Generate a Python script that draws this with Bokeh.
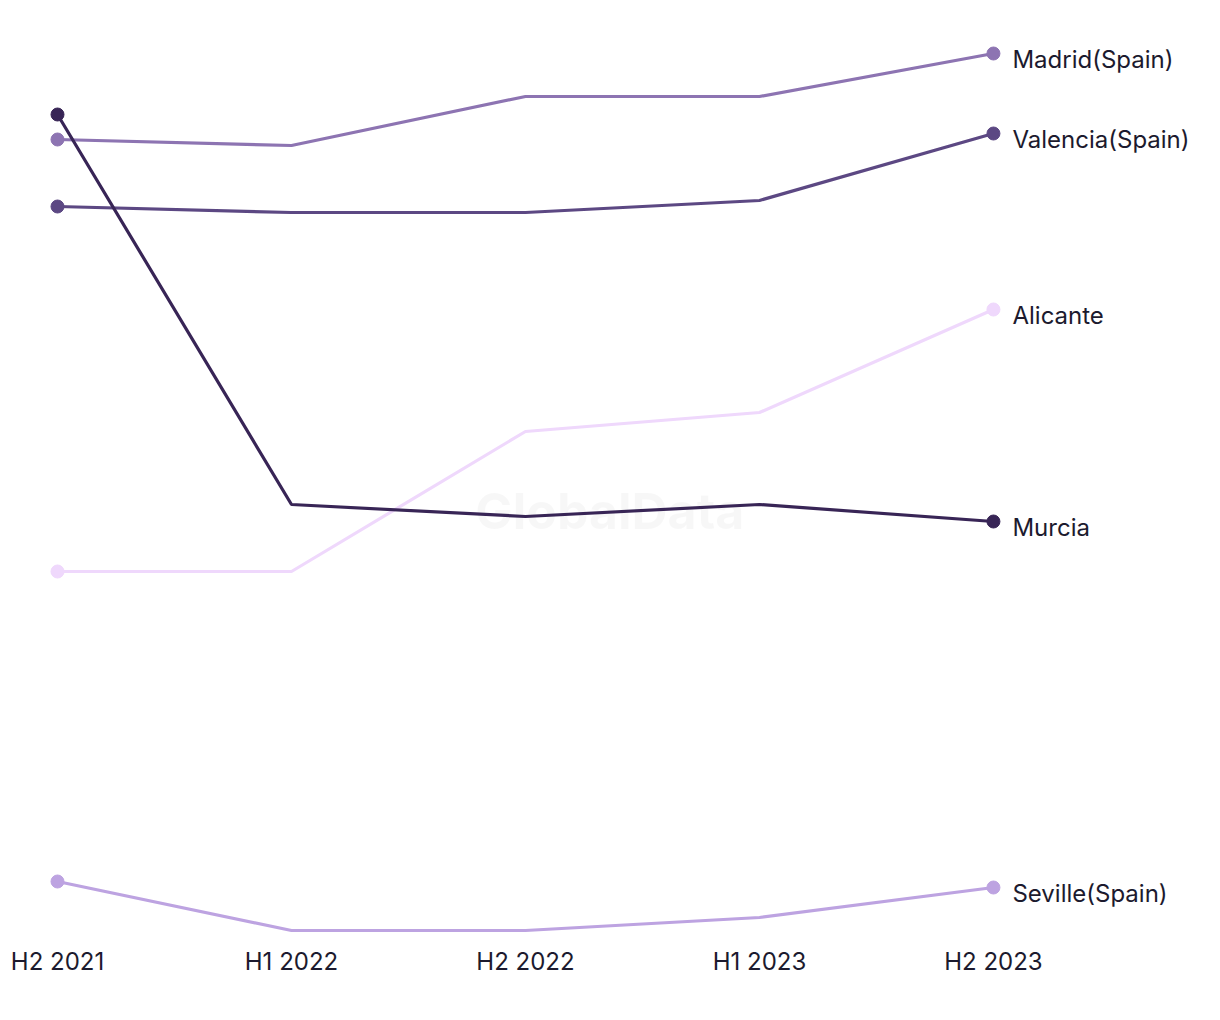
from bokeh.plotting import figure
from bokeh.models import Range1d, FixedTicker, ColumnDataSource
from bokeh.core.properties import value
from bokeh.embed import file_html
from bokeh.resources import INLINE

periods = ["H2 2021", "H1 2022", "H2 2022", "H1 2023", "H2 2023"]
series_names = ["Madrid(Spain)", "Valencia(Spain)", "Alicante", "Seville(Spain)", "Murcia"]
madrid = [82.1, 81.5, 86.4, 86.4, 90.7]
valencia = [75.4, 74.8, 74.8, 76.0, 82.7]
alicante = [38.9, 38.9, 52.9, 54.8, 65.1]
seville = [7.9, 3.0, 3.0, 4.3, 7.3]
murcia = [84.6, 45.6, 44.4, 45.6, 43.9]
colors = ["#8d74b2", "#5c4883", "#efd8fc", "#bda3e1", "#382556"]
series_values = [madrid, valencia, alicante, seville, murcia]

FONT = "Inter"
TEXT_COLOR = "#1c1a2e"

xs = list(range(len(periods)))

p = figure(width=1204, height=1004, output_backend="svg", toolbar_location=None,
           x_range=Range1d(-0.2436, 4.902), y_range=Range1d(2.0, 96.0),
           min_border_left=0, min_border_right=0, min_border_top=0, min_border_bottom=64)
p.outline_line_color = None
p.grid.visible = False
p.yaxis.visible = False
p.background_fill_color = "white"
p.border_fill_color = "white"

# watermark
p.text(x=[2.36], y=[45.0], text=["GlobalData"], text_font=value(FONT), text_font_style="bold",
       text_font_size="50px", text_color="#000000", text_alpha=0.03,
       text_align="center", text_baseline="middle")

for name, vals, col in zip(series_names, series_values, colors):
    p.line(xs, vals, line_color=col, line_width=3.2)
    src = ColumnDataSource(dict(x=[xs[0], xs[-1]], y=[vals[0], vals[-1]]))
    p.scatter("x", "y", source=src, size=13, fill_color=col, line_color=col)
    p.text(x=[xs[-1]], y=[vals[-1]], text=[name], text_font=value(FONT),
           text_font_size="24px", text_color=TEXT_COLOR, text_align="left",
           text_baseline="middle", x_offset=19, y_offset=6)

ax = p.xaxis[0]
ax.ticker = FixedTicker(ticks=xs)
ax.major_label_overrides = {i: lab for i, lab in enumerate(periods)}
ax.axis_line_color = None
ax.major_tick_line_color = None
ax.minor_tick_line_color = None
ax.major_label_text_font = FONT
ax.major_label_text_font_size = "24px"
ax.major_label_text_color = TEXT_COLOR
ax.major_label_standoff = 0

open("out.html", "w").write(file_html(p, INLINE))
